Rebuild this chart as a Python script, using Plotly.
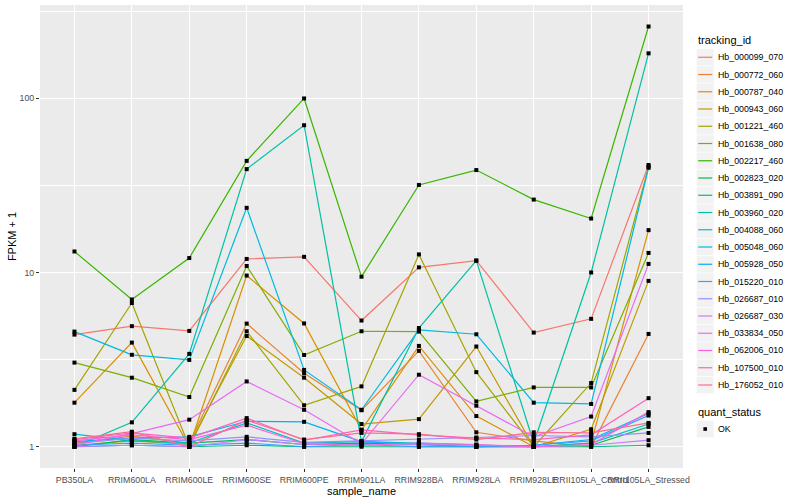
import plotly.graph_objects as go

sample_names = ["PB350LA", "RRIM600LA", "RRIM600LE", "RRIM600SE", "RRIM600PE",
                "RRIM901LA", "RRIM928BA", "RRIM928LA", "RRIM928LE",
                "RRII105LA_Control", "RRII105LA_Stressed"]

tracking_ids = ["Hb_000099_070", "Hb_000772_060", "Hb_000787_040", "Hb_000943_060",
                "Hb_001221_460", "Hb_001638_080", "Hb_002217_460", "Hb_002823_020",
                "Hb_003891_090", "Hb_003960_020", "Hb_004088_060", "Hb_005048_060",
                "Hb_005928_050", "Hb_015220_010", "Hb_026687_010", "Hb_026687_030",
                "Hb_033834_050", "Hb_062006_010", "Hb_107500_010", "Hb_176052_010"]

colors = ["#F8766D", "#EA8331", "#D89000", "#C09B00", "#A3A500", "#7CAE00", "#39B600",
          "#00BB4E", "#00BF7D", "#00C1A3", "#00BFC4", "#00BAE0", "#00B0F6", "#35A2FF",
          "#9590FF", "#C77CFF", "#E76BF3", "#FA62DB", "#FF62BC", "#FF6C91"]

# FPKM + 1 values per sample (same order as sample_names)
hb_000099_070 = [4.40, 4.92, 4.62, 11.96, 12.3, 5.30, 10.7, 11.7, 4.52, 5.42, 41.4]
hb_000772_060 = [1.05, 1.15, 1.05, 5.09, 2.64, 1.62, 3.55, 1.21, 1.08, 1.00, 4.44]
hb_000787_040 = [1.79, 3.96, 1.00, 9.60, 5.10, 1.25, 3.79, 1.50, 1.00, 1.05, 17.5]
hb_000943_060 = [1.02, 1.08, 1.03, 4.32, 2.49, 1.35, 1.44, 3.76, 1.00, 1.26, 8.95]
hb_001221_460 = [2.12, 6.68, 1.00, 4.60, 1.73, 2.22, 12.7, 2.68, 1.00, 2.32, 40.5]
hb_001638_080 = [3.04, 2.49, 1.93, 10.9, 3.36, 4.60, 4.58, 1.82, 2.19, 2.19, 12.95]
hb_002217_460 = [13.2, 7.00, 12.1, 43.7, 99.7, 9.46, 31.8, 38.7, 26.2, 20.4, 258.0]
hb_002823_020 = [1.00, 1.10, 1.05, 1.10, 1.03, 1.05, 1.03, 1.00, 1.00, 1.02, 1.30]
hb_003891_090 = [1.00, 1.02, 1.00, 1.02, 1.00, 1.00, 1.00, 1.00, 1.00, 1.00, 1.02]
hb_003960_020 = [1.00, 1.38, 3.41, 39.2, 70.0, 1.07, 4.80, 11.7, 1.05, 10.0, 181.0]
hb_004088_060 = [1.18, 1.08, 1.05, 1.37, 1.05, 1.07, 1.05, 1.02, 1.00, 1.05, 1.35]
hb_005048_060 = [4.58, 3.37, 3.15, 23.5, 2.76, 1.63, 4.68, 4.42, 1.79, 1.76, 39.9]
hb_005928_050 = [1.07, 1.12, 1.14, 1.40, 1.39, 1.07, 1.03, 1.00, 1.02, 1.10, 1.55]
hb_015220_010 = [1.02, 1.05, 1.02, 1.05, 1.00, 1.03, 1.00, 1.00, 1.02, 1.08, 1.51]
hb_026687_010 = [1.04, 1.12, 1.08, 1.14, 1.06, 1.08, 1.10, 1.13, 1.16, 1.14, 1.20]
hb_026687_030 = [1.00, 1.02, 1.00, 1.10, 1.03, 1.02, 1.03, 1.02, 1.00, 1.02, 1.09]
hb_033834_050 = [1.02, 1.19, 1.43, 2.37, 1.63, 1.04, 2.59, 1.72, 1.14, 1.49, 11.2]
hb_062006_010 = [1.08, 1.17, 1.10, 1.33, 1.04, 1.02, 1.05, 1.03, 1.00, 1.03, 1.58]
hb_107500_010 = [1.10, 1.20, 1.12, 1.46, 1.09, 1.25, 1.17, 1.12, 1.10, 1.17, 1.90]
hb_176052_010 = [1.11, 1.22, 1.00, 1.42, 1.10, 1.20, 1.18, 1.10, 1.21, 1.20, 1.37]

series = [hb_000099_070, hb_000772_060, hb_000787_040, hb_000943_060, hb_001221_460,
          hb_001638_080, hb_002217_460, hb_002823_020, hb_003891_090, hb_003960_020,
          hb_004088_060, hb_005048_060, hb_005928_050, hb_015220_010, hb_026687_010,
          hb_026687_030, hb_033834_050, hb_062006_010, hb_107500_010, hb_176052_010]

quant_status = ["OK"]

FONT = "Liberation Sans, Arial, Helvetica, sans-serif"
W, H = 800, 500
L, R, T, B = 40, 683.3, 5, 468.3   # panel edges in pixels

def px(xp):
    return (xp - L) / (R - L)

def py(yp):
    return (B - yp) / (B - T)

fig = go.Figure()

for tid, col, vals in zip(tracking_ids, colors, series):
    fig.add_trace(go.Scatter(x=sample_names, y=vals, mode="lines", name=tid,
                             line=dict(color=col, width=1.2), showlegend=False))

all_x = [s for vals in series for s in sample_names]
all_y = [v for vals in series for v in vals]
fig.add_trace(go.Scatter(x=all_x, y=all_y, mode="markers", name=quant_status[0],
                         marker=dict(symbol="square", size=4, color="black"),
                         showlegend=False))

shapes = []
annotations = []

# legend: tracking_id
annotations.append(dict(x=px(696), y=py(40), xref="paper", yref="paper",
                        text="tracking_id", showarrow=False, xanchor="left",
                        yanchor="middle", font=dict(family=FONT, size=11, color="black")))
item0, step = 57.3, 17.26
for i, (tid, col) in enumerate(zip(tracking_ids, colors)):
    cy = item0 + i * step
    shapes.append(dict(type="rect", xref="paper", yref="paper",
                       x0=px(697), x1=px(714), y0=py(cy - 8.3), y1=py(cy + 8.3),
                       fillcolor="#F2F2F2", line=dict(width=0), layer="above"))
    shapes.append(dict(type="line", xref="paper", yref="paper",
                       x0=px(698.5), x1=px(712.5), y0=py(cy), y1=py(cy),
                       line=dict(color=col, width=1.2), layer="above"))
    annotations.append(dict(x=px(716.5), y=py(cy), xref="paper", yref="paper",
                            text=tid, showarrow=False, xanchor="left", yanchor="middle",
                            font=dict(family=FONT, size=8.8, color="black")))

# legend: quant_status
annotations.append(dict(x=px(696), y=py(412), xref="paper", yref="paper",
                        text="quant_status", showarrow=False, xanchor="left",
                        yanchor="middle", font=dict(family=FONT, size=11, color="black")))
qy = 429.3
shapes.append(dict(type="rect", xref="paper", yref="paper",
                   x0=px(697), x1=px(714), y0=py(qy - 8.3), y1=py(qy + 8.3),
                   fillcolor="#F2F2F2", line=dict(width=0), layer="above"))
shapes.append(dict(type="rect", xref="paper", yref="paper",
                   x0=px(703.7), x1=px(707.3), y0=py(qy - 1.8), y1=py(qy + 1.8),
                   fillcolor="black", line=dict(width=0), layer="above"))
annotations.append(dict(x=px(716), y=py(qy), xref="paper", yref="paper",
                        text=quant_status[0], showarrow=False, xanchor="left",
                        yanchor="middle", font=dict(family=FONT, size=8.8, color="black")))

fig.update_layout(
    width=W, height=H,
    margin=dict(l=L, r=W - R, t=T, b=H - B, pad=0),
    paper_bgcolor="white", plot_bgcolor="#EBEBEB",
    font=dict(family=FONT, size=8.8, color="#4D4D4D"),
    shapes=shapes, annotations=annotations,
    showlegend=False,
)

fig.update_xaxes(
    type="category", categoryorder="array", categoryarray=sample_names,
    range=[-0.6, len(sample_names) - 0.4],
    automargin=False,
    showgrid=True, gridcolor="white", gridwidth=1.07,
    zeroline=False, showline=False,
    ticks="outside", ticklen=3, tickwidth=1, tickcolor="#333333",
    tickangle=0, tickfont=dict(family=FONT, size=8.8, color="#4D4D4D"),
    title=dict(text="sample_name", font=dict(family=FONT, size=11, color="black"), standoff=0),
)

fig.update_yaxes(
    type="log", range=[-0.122, 2.535],
    automargin=False,
    tickvals=[1, 10, 100], ticktext=["1", "10", "100"],
    showgrid=True, gridcolor="white", gridwidth=1.07,
    minor=dict(tickvals=[10 ** 0.5, 10 ** 1.5, 10 ** 2.5], showgrid=True,
               gridcolor="white", gridwidth=0.53, ticks=""),
    zeroline=False, showline=False,
    ticks="outside", ticklen=3, tickwidth=1, tickcolor="#333333",
    tickfont=dict(family=FONT, size=8.8, color="#4D4D4D"),
    title=dict(text="FPKM + 1", font=dict(family=FONT, size=11, color="black"), standoff=0),
)

fig.write_html("out.html", config={"displayModeBar": False},
               post_script="document.body.style.margin='0px';")
